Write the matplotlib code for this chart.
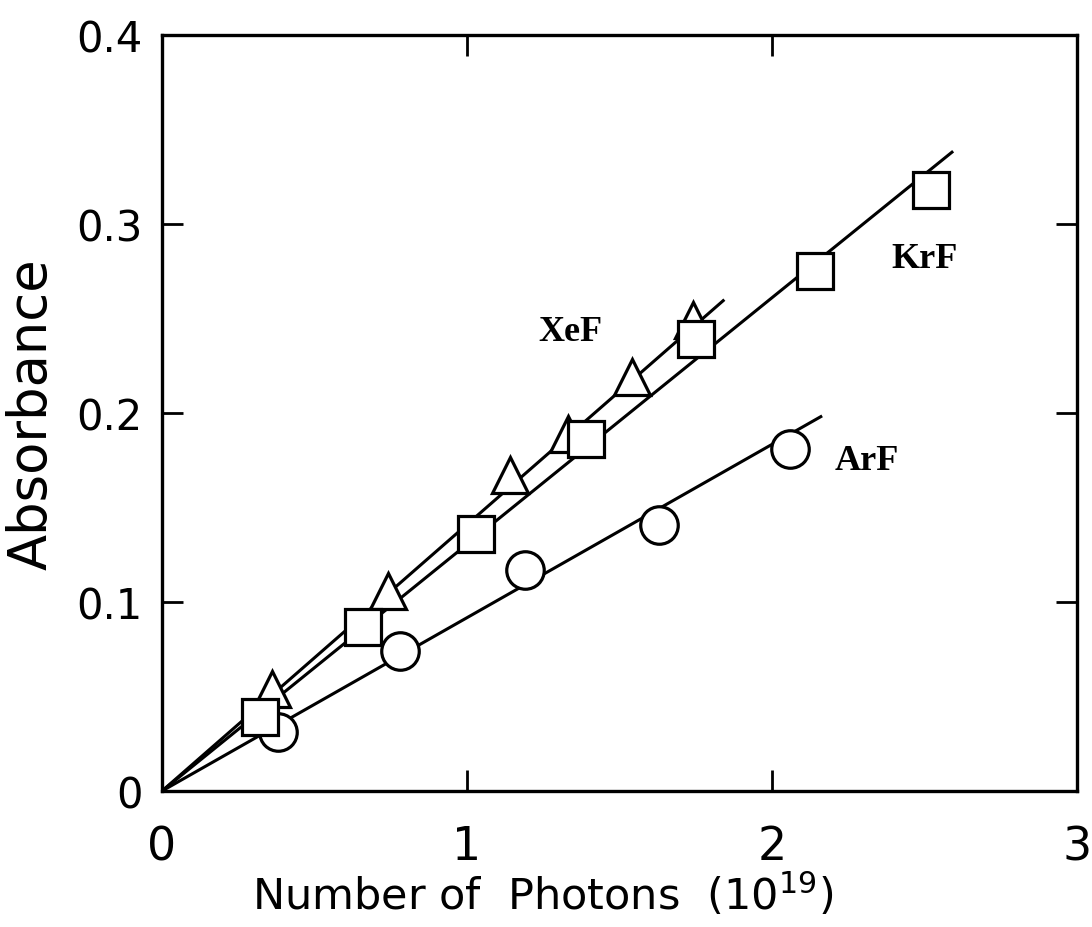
import matplotlib
matplotlib.use("Agg")
import matplotlib.pyplot as plt
import numpy as np

plt.rcParams['font.family'] = ['DejaVu Sans']
plt.rcParams['mathtext.default'] = 'regular'

# data (photons in 1e19, absorbance)
krf_x = [0.32, 0.66, 1.03, 1.39, 1.75, 2.14, 2.52]
krf_y = [0.039, 0.087, 0.136, 0.186, 0.239, 0.275, 0.318]
xef_x = [0.36, 0.74, 1.14, 1.33, 1.54, 1.74]
xef_y = [0.054, 0.106, 0.167, 0.189, 0.219, 0.249]
arf_x = [0.38, 0.78, 1.19, 1.63, 2.06]
arf_y = [0.031, 0.074, 0.117, 0.141, 0.181]

# fitted lines through the origin: slope, last x
fit_slopes = {'XeF': 0.141, 'KrF': 0.1305, 'ArF': 0.0917}
fit_ends = {'XeF': 1.84, 'KrF': 2.59, 'ArF': 2.16}

labels = ['XeF', 'KrF', 'ArF']
label_x = [1.34, 2.50, 2.31]
label_y = [0.243, 0.282, 0.175]

xticks = [0, 1, 2, 3]
yticks = [0, 0.1, 0.2, 0.3, 0.4]
ytick_labels = ['0', '0.1', '0.2', '0.3', '0.4']

fig = plt.figure(figsize=(10.92, 9.28), dpi=100)
ax = fig.add_axes([162/1092, 136/928, 915/1092, 756/928])

# fit lines first, markers on top
for name in labels:
    xs = np.array([0, fit_ends[name]])
    ax.plot(xs, fit_slopes[name] * xs, color='black', lw=2.2, zorder=2)

mk = dict(color='black', mfc='white', mec='black', mew=2.3, ls='none', zorder=3)
ax.plot(arf_x, arf_y, marker='o', ms=27, **mk)
ax.plot(xef_x, xef_y, marker='^', ms=26, **mk)
ax.plot(krf_x, krf_y, marker='s', ms=26, **mk)

for t, lx, ly in zip(labels, label_x, label_y):
    ax.text(lx, ly, t, family='Liberation Serif', weight='bold', fontsize=26,
            ha='center', va='center')

ax.set_xlim(0, 3)
ax.set_ylim(0, 0.4)
ax.set_xticks(xticks)
ax.set_xticklabels([str(v) for v in xticks])
ax.set_yticks(yticks)
ax.set_yticklabels(ytick_labels)

ax.tick_params(direction='in', length=15, width=2, top=True, right=True,
               labelsize=30)
ax.tick_params(axis='x', pad=24, labelsize=33)
ax.tick_params(axis='y', pad=14)
for s in ax.spines.values():
    s.set_linewidth(2.4)

ax.set_xlabel('Number of  Photons  (10$^{19}$)', fontsize=31)
ax.set_ylabel('Absorbance', fontsize=38)
ax.xaxis.label.set_va('center')
ax.yaxis.label.set_va('center')
ax.xaxis.set_label_coords(0.416, -0.137)
ax.yaxis.set_label_coords(-0.143, 0.5)

fig.savefig('out.png', dpi=100, facecolor='white')
